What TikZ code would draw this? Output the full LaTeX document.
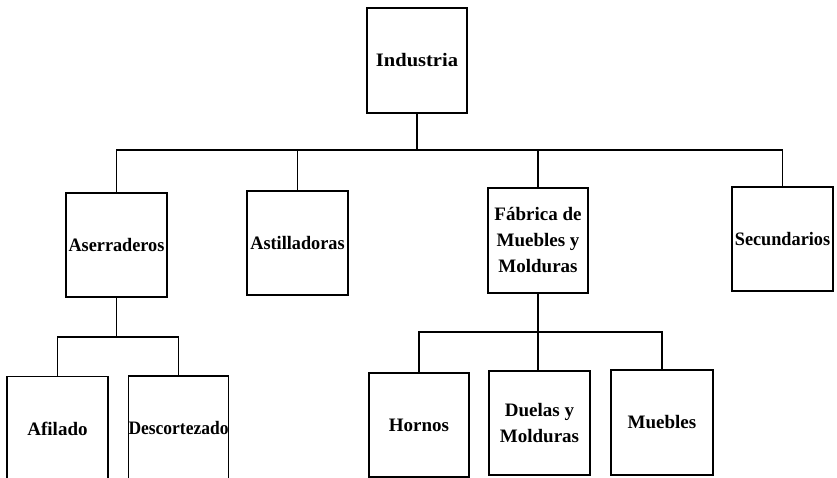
\documentclass[tikz,border=0pt]{standalone}
\usepackage{fontspec}
\setmainfont{Liberation Serif}
\begin{document}
\begin{tikzpicture}[x=1pt,y=-1pt,
  box/.style={draw=black,line width=1.6pt,fill=white,minimum width=101pt,minimum height=104pt,
    inner sep=0pt,align=center,font=\bfseries\fontsize{19}{26}\selectfont},
  conn/.style={line width=1.6pt}]
\clip (0,0) rectangle (837,478);
\fill[white] (0,0) rectangle (837,478);
\coordinate (busA) at (0,150);
\coordinate (busB) at (0,337);
\coordinate (busC) at (0,332);
\node[box,minimum width=100pt,minimum height=105pt] (ind) at (417,60.5) {\scalebox{1.08}[1]{Industria}};
\node[box] (ase) at (116.5,245) {\scalebox{0.96}[1]{Aserraderos}};
\node[box] (ast) at (297.5,243) {\scalebox{0.96}[1]{Astilladoras}};
\node[box,minimum width=100pt,minimum height=105pt] (fab) at (538,240.5) {Fábrica de\\Muebles y\\Molduras};
\node[box] (sec) at (782.5,239) {\scalebox{0.96}[1]{Secundarios}};
\node[box] (afi) at (57.5,428.5) {Afilado};
\node[box,minimum width=99pt] (des) at (178.5,428) {\scalebox{0.92}[1]{Descortezado}};
\node[box,minimum width=100pt] (hor) at (419,425) {Hornos};
\node[box] (due) at (539.5,423) {Duelas y\\Molduras};
\node[box,minimum width=102pt,minimum height=105pt] (mue) at (662,422.5) {Muebles};
\draw[conn] (ind.south) -- (ind.south |- busA);
\draw[conn] (ase.north) |- (sec.north |- busA) -- (sec.north);
\draw[conn] (ast.north) -- (ast.north |- busA);
\draw[conn] (fab.north) -- (fab.north |- busA);
\draw[conn] (ase.south) -- (ase.south |- busB);
\draw[conn] (afi.north) |- (des.north |- busB) -- (des.north);
\draw[conn] (fab.south) -- (fab.south |- due.north);
\draw[conn] (hor.north) |- (mue.north |- busC) -- (mue.north);
\end{tikzpicture}
\end{document}
